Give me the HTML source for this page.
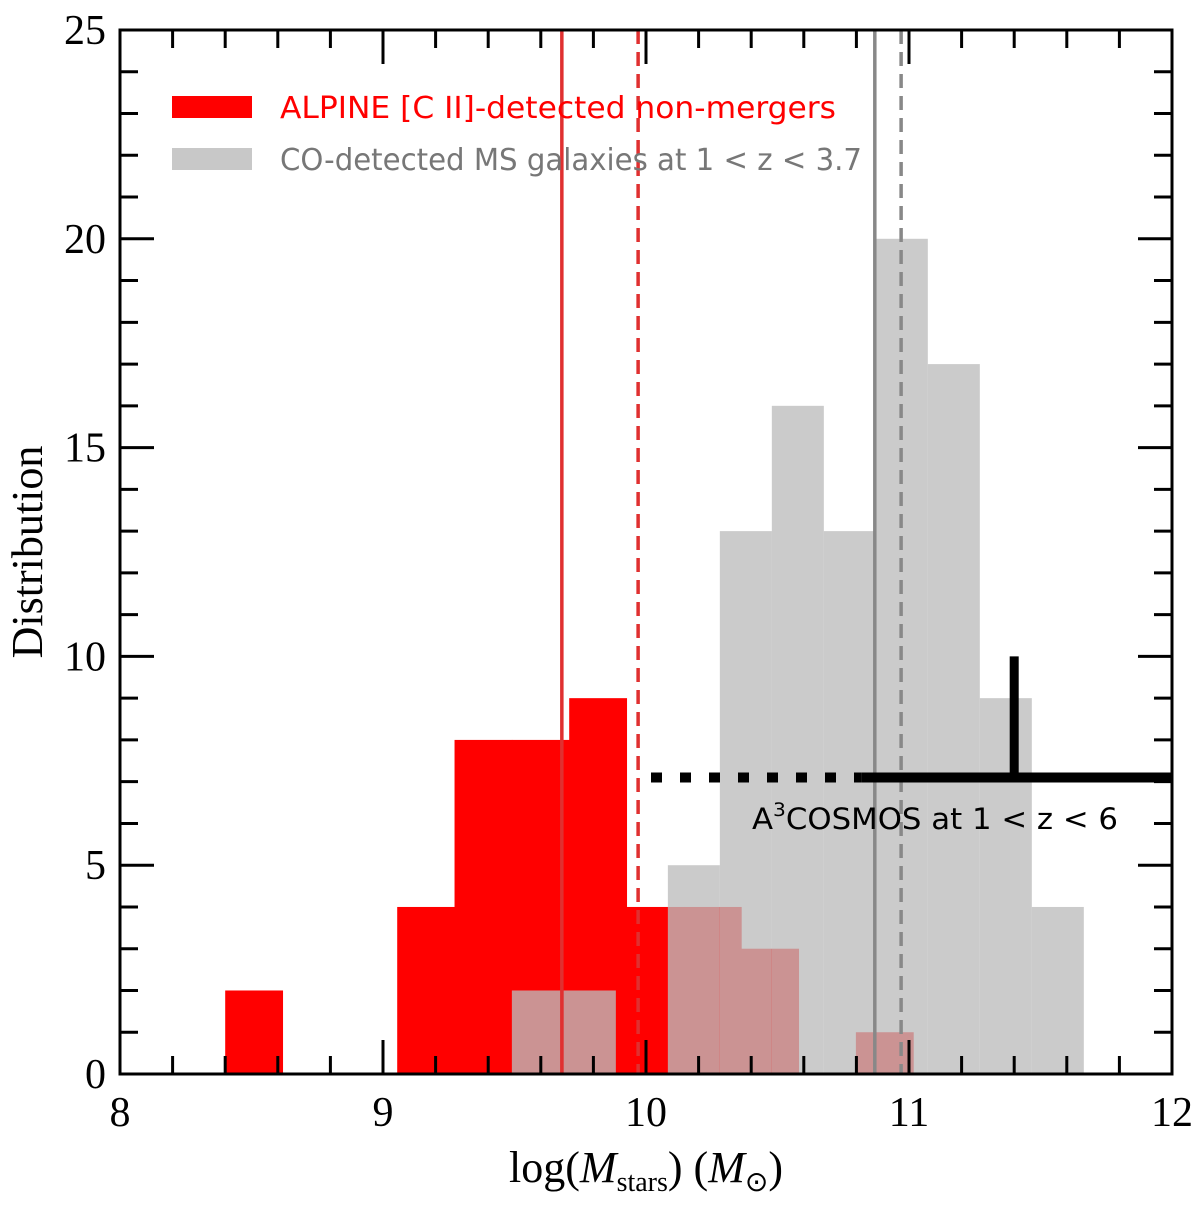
<!DOCTYPE html>
<html><head><meta charset="utf-8"><style>
body{margin:0;background:#fff}
svg text{font-family:"Liberation Serif",serif}
.sans{font-family:"DejaVu Sans","Liberation Sans",sans-serif}
</style></head><body>
<svg id="chart" width="1200" height="1205">
<g id="bars"></g><g id="lines"></g><g id="axes"></g>
<g>
<rect x="172" y="96" width="80" height="22" fill="#ff0000"/>
<text x="280" y="118" class="sans" font-size="30" textLength="556" lengthAdjust="spacingAndGlyphs" fill="#ff0000">ALPINE [C II]-detected non-mergers</text>
<rect x="172" y="148" width="80" height="22" fill="#c8c8c8"/>
<text x="280" y="170" class="sans" font-size="30" textLength="582" lengthAdjust="spacingAndGlyphs" fill="#777">CO-detected MS galaxies at 1 &lt; z &lt; 3.7</text>
</g>
<text x="752" y="829" class="sans" font-size="29" textLength="366" lengthAdjust="spacingAndGlyphs" fill="#000">A<tspan dy="-13" font-size="19">3</tspan><tspan dy="13">COSMOS at 1 &lt; z &lt; 6</tspan></text>
<text x="42" y="552" font-size="44" text-anchor="middle" transform="rotate(-90 42 552)">Distribution</text>
<text x="646" y="1182" font-size="44" text-anchor="middle">log(<tspan font-style="italic">M</tspan><tspan font-size="28" dy="9">stars</tspan><tspan dy="-9">) (</tspan><tspan font-style="italic">M</tspan><tspan font-size="28" dy="9">⊙</tspan><tspan dy="-9">)</tspan></text>
</svg>
<script>
const redStart=8.40, redWidth=0.218;
const redCounts=[2,0,0,4,8,8,9,4,4,3,0,1];
const greyStart=9.49, greyWidth=0.1977;
const greyCounts=[2,2,0,5,13,16,13,20,17,9,4];
const medians=[9.68,9.97,10.87,10.97];
const a3Level=7.1, a3Start=10.0, a3SolidStart=10.82, a3Mark=11.4, a3MarkTop=10;
const xTicks=[8,9,10,11,12];
const yTicks=[0,5,10,15,20,25];
const X=v=>120+(v-8)*263, Y=v=>1074-v*41.76;
const NS='http://www.w3.org/2000/svg';
function mk(p,t,a){const e=document.createElementNS(NS,t);for(const k in a)e.setAttribute(k,a[k]);p.appendChild(e);return e;}
const bars=document.getElementById('bars'),lines=document.getElementById('lines'),axes=document.getElementById('axes');
redCounts.forEach((c,i)=>{if(!c)return;const x0=X(redStart+i*redWidth),x1=X(redStart+(i+1)*redWidth);
const r=mk(bars,'rect',{x:x0,y:Y(c),width:x1-x0+0.5,height:Y(0)-Y(c),fill:'#ff0000'});

});
greyCounts.forEach((c,i)=>{if(!c)return;const x0=X(greyStart+i*greyWidth),x1=X(greyStart+(i+1)*greyWidth);
const r=mk(bars,'rect',{x:x0,y:Y(c),width:x1-x0,height:Y(0)-Y(c),fill:'rgb(188,188,188)','fill-opacity':0.78});

});
const mstyle=[['#e03030',''],['#e03030','14,8'],['#888',''],['#888','14,8']];
medians.forEach((m,i)=>{const l=mk(lines,'line',{x1:X(m),x2:X(m),y1:30,y2:1074,stroke:mstyle[i][0],'stroke-width':3.5,'stroke-dasharray':mstyle[i][1]});

});
let l=mk(lines,'line',{x1:X(a3Start)+5,x2:X(a3SolidStart),y1:Y(a3Level),y2:Y(a3Level),stroke:'#000','stroke-width':10,'stroke-dasharray':'11,18'});


l=mk(lines,'line',{x1:X(a3SolidStart),x2:X(12),y1:Y(a3Level),y2:Y(a3Level),stroke:'#000','stroke-width':10});


l=mk(lines,'line',{x1:X(a3Mark),x2:X(a3Mark),y1:Y(a3MarkTop),y2:Y(a3Level),stroke:'#000','stroke-width':9});


const fr=mk(axes,'rect',{x:120,y:30,width:1052,height:1044,fill:'none',stroke:'#000','stroke-width':3});


for(let v=8;v<=12.001;v+=0.2){const maj=Math.abs(v-Math.round(v))<1e-6,len=maj?34:18,x=X(v);
mk(axes,'line',{x1:x,x2:x,y1:1074,y2:1074-len,stroke:'#000','stroke-width':3});
mk(axes,'line',{x1:x,x2:x,y1:30,y2:30+len,stroke:'#000','stroke-width':3});}
for(let v=0;v<=25;v++){const len=v%5==0?34:18,y=Y(v);
mk(axes,'line',{x1:120,x2:120+len,y1:y,y2:y,stroke:'#000','stroke-width':3});
mk(axes,'line',{x1:1172,x2:1172-len,y1:y,y2:y,stroke:'#000','stroke-width':3});}
xTicks.forEach(v=>{const t=mk(axes,'text',{x:X(v),y:1126,'font-size':42,'text-anchor':'middle'});t.textContent=v;

});
yTicks.forEach(v=>{const t=mk(axes,'text',{x:106,y:Y(v)+14,'font-size':42,'text-anchor':'end'});t.textContent=v;

});
</script>
</body></html>
